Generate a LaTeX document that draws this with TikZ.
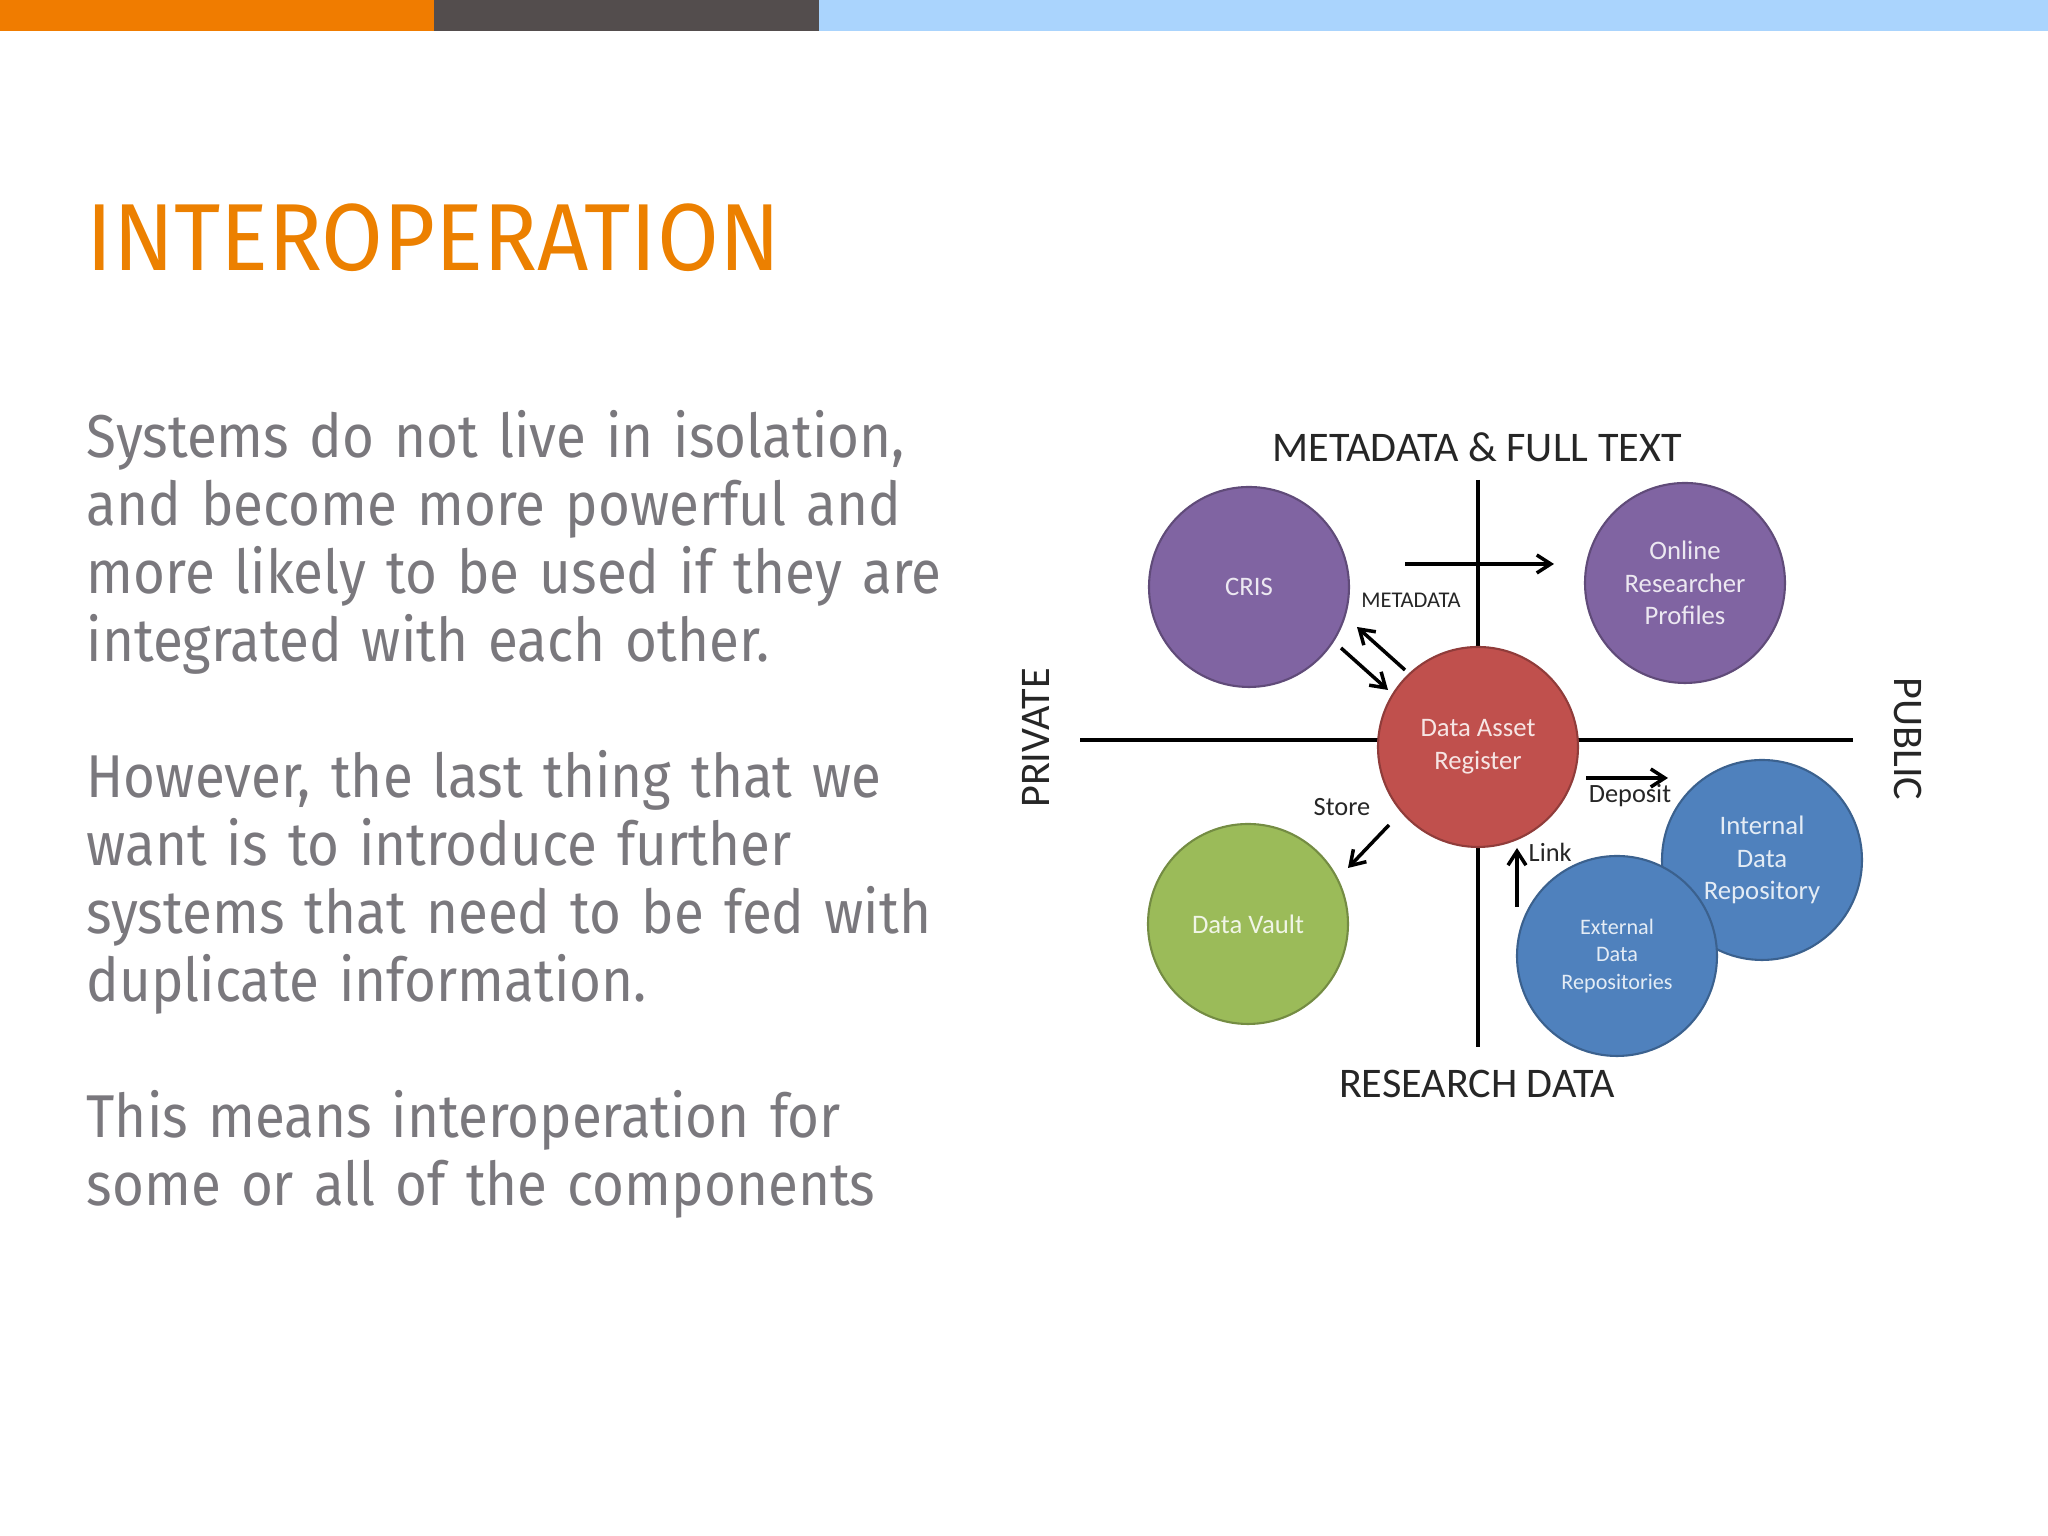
\documentclass[tikz,border=0pt]{standalone}
\usepackage{fontspec}
\setmainfont{Fira Sans}
\newfontfamily\titlefont[FakeStretch=0.94]{Fira Sans}
\newfontfamily\bodyfont[FakeStretch=0.905]{Fira Sans}
\newfontfamily\diagfont{Carlito}
\usetikzlibrary{arrows.meta}

\definecolor{barorange}{RGB}{240,124,0}
\definecolor{bargray}{RGB}{83,77,77}
\definecolor{barblue}{RGB}{170,212,253}
\definecolor{titleorange}{RGB}{236,128,0}
\definecolor{bodygray}{RGB}{122,120,125}
\definecolor{crispurple}{RGB}{128,100,162}
\definecolor{darred}{RGB}{192,80,77}
\definecolor{vaultgreen}{RGB}{155,187,89}
\definecolor{repoblue}{RGB}{79,129,189}

\begin{document}
\begin{tikzpicture}[
    bubble/.style={circle, minimum size=2cm, inner sep=0pt, line width=0.6pt,
      fill=#1, draw=#1!75!black, text=white!85!#1, align=center,
      font=\diagfont\fontsize{7.6}{9.25}\selectfont},
    axis/.style={line width=1.1pt},
    flow/.style={line width=1pt, -{Straight Barb[length=1.4mm, width=1.8mm]}},
    axislabel/.style={font=\diagfont\fontsize{12}{14}\selectfont, text=black!85},
    flowlabel/.style={font=\diagfont\fontsize{7.5}{9}\selectfont, text=black!85, inner sep=0pt},
    body/.style={anchor=base west, inner sep=0pt, text width=11cm, align=left,
      text=bodygray, font=\bodyfont\fontsize{17.2}{19.35}\selectfont}
  ]
  % Slide size
  \useasboundingbox (0,0) rectangle (20.48,15.36);

  % Colour bar at the top
  \fill[barorange] (0,15.05) rectangle (4.34,15.36);
  \fill[bargray] (4.34,15.05) rectangle (8.19,15.36);
  \fill[barblue] (8.19,15.05) rectangle (20.48,15.36);

  % Title and text
  \node[anchor=base west, inner sep=0pt, text=titleorange,
    font=\titlefont\fontsize{27.1}{30}\selectfont] (title) at (0.86,12.65) {INTEROPERATION};
  \node[body] (para1) at (0.86,10.78) {Systems do not live in isolation,\\
    and become more powerful and\\
    more likely to be used if they are\\
    integrated with each other.};
  \node[body] (para2) at (0.86,7.38) {However, the last thing that we\\
    want is to introduce further\\
    systems that need to be fed with\\
    duplicate information.};
  \node[body] (para3) at (0.86,3.98) {This means interoperation for\\
    some or all of the components};

  % Axes
  \coordinate (axtop) at (14.78,10.56);
  \coordinate (axbottom) at (14.78,4.89);
  \coordinate (axleft) at (10.80,7.96);
  \coordinate (axright) at (18.53,7.96);
  \draw[axis] (axtop) -- (axbottom);
  \draw[axis] (axleft) -- (axright);

  % Axis labels
  \node[axislabel, anchor=base] (toplabel) at (14.77,10.74) {METADATA \& FULL TEXT};
  \node[axislabel, anchor=base] (bottomlabel) at (14.77,4.38) {RESEARCH DATA};
  \node[axislabel, rotate=90] (private) at (10.36,7.98) {PRIVATE};
  \node[axislabel, rotate=-90] (public) at (19.08,7.97) {PUBLIC};

  % Systems
  \node[bubble=crispurple] (cris) at (12.49,9.49) {CRIS};
  \node[bubble=crispurple] (profiles) at (16.85,9.53) {Online\\Researcher\\Profiles};
  \node[bubble=darred] (register) at (14.78,7.89) {Data Asset\\Register};
  \node[bubble=vaultgreen] (vault) at (12.48,6.12) {Data Vault};
  \node[bubble=repoblue] (internal) at (17.62,6.76) {Internal\\Data\\Repository};
  \node[bubble=repoblue, font=\diagfont\fontsize{6.3}{7.8}\selectfont]
    (external) at (16.17,5.80) {External\\Data\\Repositories};

  % Flows
  \coordinate (fullA) at (14.05,9.72);
  \coordinate (fullB) at (15.54,9.72);
  \coordinate (metaA) at (14.05,8.66);
  \coordinate (metaB) at (13.57,9.09);
  \coordinate (metaC) at (13.41,8.88);
  \coordinate (metaD) at (13.88,8.46);
  \coordinate (depA) at (15.86,7.58);
  \coordinate (depB) at (16.68,7.58);
  \coordinate (storeA) at (13.89,7.11);
  \coordinate (storeB) at (13.48,6.68);
  \coordinate (linkA) at (15.17,6.29);
  \coordinate (linkB) at (15.17,6.88);
  \draw[flow] (fullA) -- (fullB);
  \draw[flow] (metaA) -- (metaB);
  \draw[flow] (metaC) -- (metaD);
  \draw[flow] (depA) -- (depB);
  \draw[flow] (storeA) -- (storeB);
  \draw[flow] (linkA) -- (linkB);

  % Flow labels
  \node[flowlabel, font=\diagfont\fontsize{6.4}{8}\selectfont] (metalabel) at (14.11,9.36) {METADATA};
  \node[flowlabel, anchor=base] (storelabel) at (13.42,7.20) {Store};
  \node[flowlabel, anchor=base] (depositlabel) at (16.30,7.33) {Deposit};
  \node[flowlabel, anchor=base west] (linklabel) at (15.28,6.74) {Link};
\end{tikzpicture}
\end{document}
